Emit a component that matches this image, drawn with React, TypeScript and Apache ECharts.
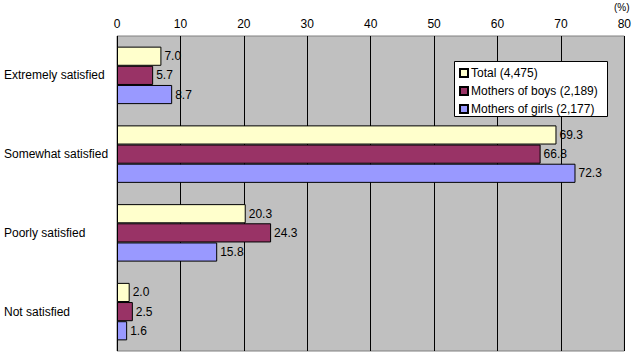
import React, { useEffect, useRef } from "react";
import * as echarts from "echarts";

const categories = ["Extremely satisfied", "Somewhat satisfied", "Poorly satisfied", "Not satisfied"];
const seriesNames = ["Total (4,475)", "Mothers of boys (2,189)", "Mothers of girls (2,177)"];
const totalValues = [7.0, 69.3, 20.3, 2.0];
const boysValues = [5.7, 66.8, 24.3, 2.5];
const girlsValues = [8.7, 72.3, 15.8, 1.6];
const colors = ["#ffffcc", "#993366", "#9999ff"];

const FONT = "'Liberation Sans', Arial, sans-serif";

export default function App() {
  const ref = useRef<HTMLDivElement>(null);
  useEffect(() => {
    if (!ref.current) return;
    const chart = echarts.init(ref.current, undefined, { renderer: "svg" });
    const data = [totalValues, boysValues, girlsValues];
    chart.setOption({
      animation: false,
      backgroundColor: "#ffffff",
      textStyle: { fontFamily: FONT, color: "#000" },
      grid: {
        left: 117,
        right: 8,
        top: 36,
        bottom: 5,
        show: true,
        backgroundColor: "#c0c0c0",
        borderColor: "#808080",
        borderWidth: 1,
      },
      legend: {
        orient: "vertical",
        left: 455,
        top: 62,
        z: 10,
        padding: [5, 4, 4, 4],
        itemWidth: 8,
        itemHeight: 8,
        itemGap: 6,
        icon: "rect",
        textStyle: {
          fontSize: 12,
          lineHeight: 12,
          fontFamily: FONT,
          color: "#000",
          padding: [0, 0, 0, -2],
        },
        data: seriesNames,
      },
      xAxis: {
        type: "value",
        position: "top",
        min: 0,
        max: 80,
        interval: 10,
        axisLine: { show: false },
        axisTick: { show: false },
        axisLabel: { fontSize: 12, color: "#000", margin: 6, fontFamily: FONT },
        splitLine: { show: true, lineStyle: { color: "#000", width: 1 } },
      },
      yAxis: {
        type: "category",
        data: categories,
        inverse: true,
        axisLine: { show: false },
        axisTick: { show: false },
        axisLabel: { fontSize: 12, color: "#000", margin: 113, align: "left", fontFamily: FONT },
      },
      graphic: [
        {
          type: "rect",
          z: 9,
          shape: { x: 454.5, y: 61.5, width: 153, height: 55 },
          style: { fill: "#ffffff", stroke: "#000000", lineWidth: 1 },
        },
        {
          type: "text",
          left: 614,
          top: 2,
          style: { text: "(%)", fontSize: 10, fill: "#000", fontFamily: FONT },
        },
      ],
      series: seriesNames.map((name, i) => ({
        name,
        type: "bar",
        data: data[i],
        barGap: "0%",
        barCategoryGap: "27%",
        itemStyle: { color: colors[i], borderColor: "#000", borderWidth: 1 },
        label: {
          show: true,
          position: "right",
          distance: 3,
          fontSize: 12,
          color: "#000",
          fontFamily: FONT,
          formatter: (p: any) => Number(p.value).toFixed(1),
        },
      })),
    });
    return () => chart.dispose();
  }, []);
  return (
    <div
      ref={ref}
      style={{ position: "fixed", left: 0, top: 0, width: 634, height: 356 }}
    />
  );
}
